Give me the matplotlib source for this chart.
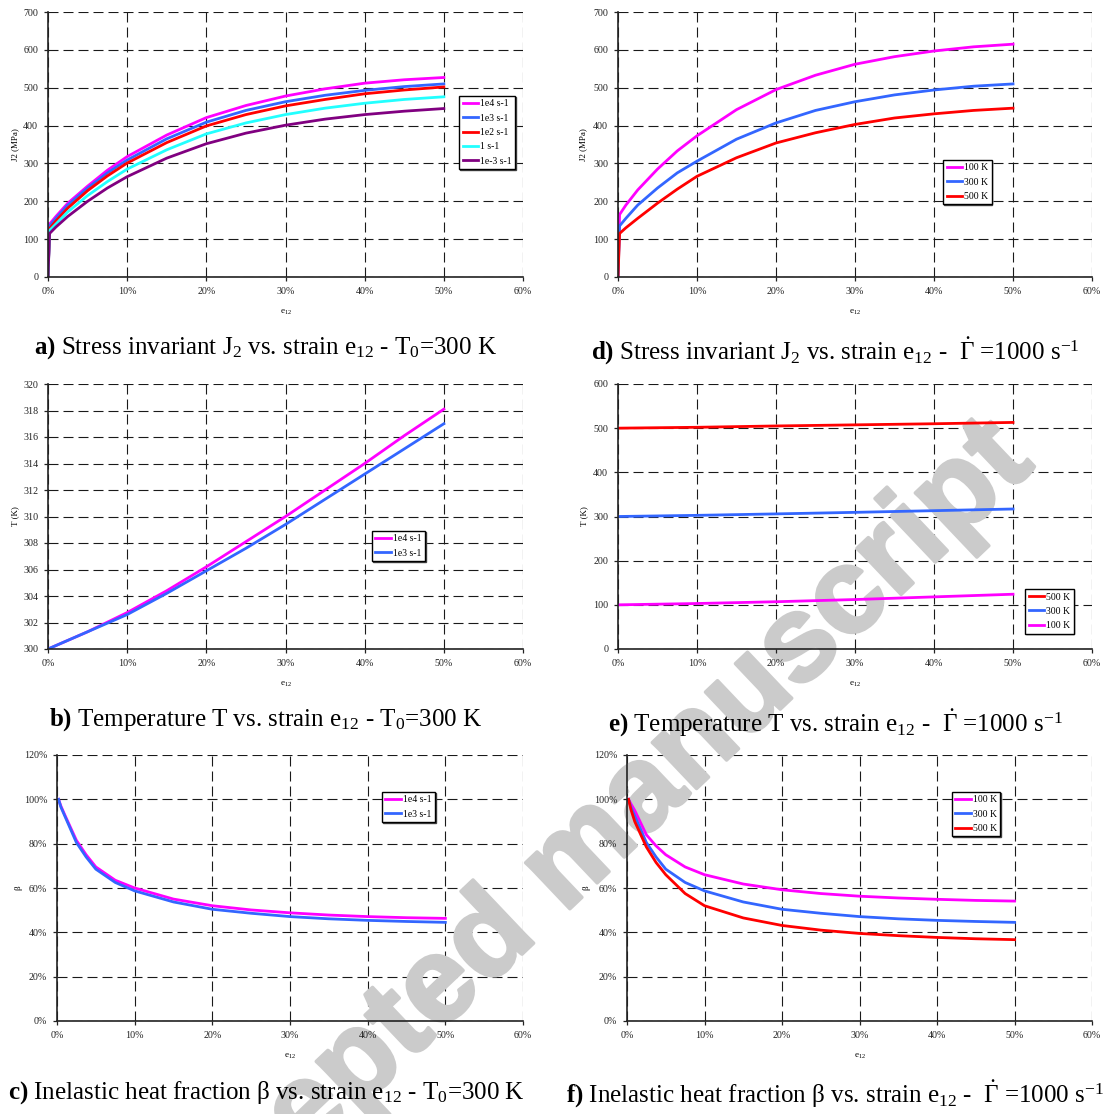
import matplotlib
matplotlib.use('Agg')
import matplotlib.pyplot as plt
import matplotlib.patheffects as pe
from matplotlib.ticker import PercentFormatter, MultipleLocator

# fonts: Times-like text, also inside math
plt.rcParams['font.family'] = ['Liberation Serif', 'DejaVu Serif']
plt.rcParams['mathtext.fontset'] = 'custom'
plt.rcParams['mathtext.rm'] = 'Liberation Serif'
plt.rcParams['mathtext.it'] = 'Liberation Serif:italic'
plt.rcParams['mathtext.bf'] = 'Liberation Serif:bold'

MAGENTA = '#ff00ff'
BLUE = '#3366ff'
RED = '#ff0000'
CYAN = '#22ffff'
PURPLE = '#800080'

# ---- a) J2 vs strain, T0 = 300 K, several strain rates
strain_j2 = [0, 0.002, 0.01, 0.025, 0.05, 0.075, 0.1, 0.15, 0.2, 0.25, 0.3, 0.35, 0.4, 0.45, 0.5]
j2_1e4 = [0, 140, 160, 195, 240, 282, 318, 375, 421, 453, 478, 497, 512, 521, 527]
j2_1e3 = [0, 135, 155, 190, 235, 275, 309, 365, 409, 440, 463, 480, 493, 503, 510]
j2_1e2 = [0, 128, 148, 182, 228, 267, 301, 355, 399, 429, 452, 469, 484, 494, 502]
j2_1 = [0, 123, 140, 172, 215, 252, 285, 336, 378, 407, 429, 446, 459, 469, 476]
j2_1em3 = [0, 115, 132, 160, 200, 235, 265, 314, 352, 380, 401, 417, 429, 438, 445]
rate_labels = ['1e4 s-1', '1e3 s-1', '1e2 s-1', '1 s-1', '1e-3 s-1']

# ---- d) J2 vs strain, 1000 s-1, several temperatures
j2_100K = [0, 165, 190, 230, 285, 333, 373, 442, 495, 533, 562, 582, 597, 608, 615]
j2_300K = [0, 135, 155, 190, 235, 275, 306, 364, 407, 440, 463, 481, 494, 504, 510]
j2_500K = [0, 115, 130, 155, 195, 232, 266, 315, 354, 381, 403, 420, 431, 440, 446]

# ---- b) temperature vs strain, T0 = 300 K
strain_t = [0, 0.05, 0.1, 0.15, 0.2, 0.25, 0.3, 0.35, 0.4, 0.45, 0.5]
t_1e4 = [300, 301.3, 302.75, 304.4, 306.2, 308.1, 310.0, 312.0, 314.0, 316.1, 318.1]
t_1e3 = [300, 301.3, 302.6, 304.2, 305.9, 307.6, 309.4, 311.3, 313.2, 315.1, 317.0]

# ---- e) temperature vs strain, 1000 s-1
strain_te = [0, 0.1, 0.2, 0.3, 0.4, 0.5]
t_500K = [500, 502, 505, 507.5, 510, 513]
t_300K = [300, 302.6, 305.9, 309.4, 313.2, 317]
t_100K = [100, 103, 107, 112, 118, 124]

# ---- c) and f) inelastic heat fraction beta (%)
strain_b = [0.002, 0.005, 0.01, 0.025, 0.0375, 0.05, 0.075, 0.1, 0.15, 0.2, 0.25, 0.3,
            0.35, 0.4, 0.45, 0.5]
beta_1e4 = [100, 97, 93, 81.5, 75, 69.5, 63.5, 60, 55, 52, 50.1, 48.8, 47.8, 47.1, 46.6, 46.3]
beta_1e3 = [100, 96.5, 92.5, 80.5, 74, 68.5, 62.5, 58.7, 53.7, 50.4, 48.6, 47.1, 46.1, 45.4,
            44.9, 44.5]
beta_100K = [100, 98, 95, 84, 79, 75, 69.5, 66, 61.8, 59.2, 57.5, 56.3, 55.5, 54.9, 54.4, 54.1]
beta_300K = [100, 96.5, 92.5, 80.5, 74, 68.5, 62.5, 58.7, 53.7, 50.4, 48.6, 47.1, 46.1, 45.4,
             44.9, 44.5]
beta_500K = [100, 95.5, 90, 78.5, 71.5, 66, 57.5, 52, 46.5, 43.1, 41, 39.5, 38.5, 37.7, 37.1,
             36.7]

captions = [
    r'$\mathbf{a)}$ Stress invariant J$_2$ vs. strain e$_{12}$ - T$_0$=300 K',
    r'$\mathbf{b)}$ Temperature T vs. strain e$_{12}$ - T$_0$=300 K',
    r'$\mathbf{c)}$ Inelastic heat fraction β vs. strain e$_{12}$ - T$_0$=300 K',
    r'$\mathbf{d)}$ Stress invariant J$_2$ vs. strain e$_{12}$ -  $\dot{\Gamma}$ =1000 s$^{-1}$',
    r'$\mathbf{e)}$ Temperature T vs. strain e$_{12}$ -  $\dot{\Gamma}$ =1000 s$^{-1}$',
    r'$\mathbf{f)}$ Inelastic heat fraction β vs. strain e$_{12}$ -  $\dot{\Gamma}$ =1000 s$^{-1}$',
]

W, H = 1103, 1114
fig = plt.figure(figsize=(W / 100, H / 100), dpi=100)


def box(left, right, top, bottom):
    # pixel box -> figure fraction
    return [left / W, 1 - bottom / H, (right - left) / W, (bottom - top) / H]


def style(ax, ylim, ystep, ylabel, ylab_x, pct=False):
    ax.set_facecolor('white')
    ax.set_xlim(0, 0.6)
    ax.set_ylim(*ylim)
    ax.xaxis.set_major_locator(MultipleLocator(0.1))
    ax.yaxis.set_major_locator(MultipleLocator(ystep))
    ax.xaxis.set_major_formatter(PercentFormatter(xmax=1, decimals=0))
    if pct:
        ax.yaxis.set_major_formatter(PercentFormatter(xmax=100, decimals=0))
    ax.set_axisbelow(True)
    ax.grid(True, color='#1a1a1a', lw=0.8, linestyle=(0, (9, 4.5)))
    ax.spines['top'].set_visible(False)
    ax.spines['right'].set_visible(False)
    for s in ['left', 'bottom']:
        ax.spines[s].set_linewidth(1.2)
        ax.spines[s].set_color('#222222')
    ax.tick_params(labelsize=7.2, length=3, width=0.9, pad=4, colors='#222222')
    ax.set_xlabel(r'e$_{12}$', fontsize=6.5)
    ax.xaxis.set_label_coords(0.5, -0.115)
    ax.set_ylabel(ylabel, fontsize=6.5)
    ax.yaxis.set_label_coords(ylab_x, 0.5)


def legend(ax, x, y):
    ax.legend(loc='upper left', bbox_to_anchor=(x, y), borderaxespad=0,
              fontsize=7, fancybox=False, edgecolor='black', framealpha=1,
              handlelength=1.6, handletextpad=0.2, labelspacing=0.55,
              borderpad=0.35,
              shadow={'ox': 0.6, 'oy': -0.6, 'color': '#444444', 'alpha': 1.0}
              ).get_frame().set_linewidth(1.0)


lw = 2.0

ax_a = fig.add_axes(box(48, 523, 12, 277))
for vals, col, lab in zip([j2_1e4, j2_1e3, j2_1e2, j2_1, j2_1em3],
                          [MAGENTA, BLUE, RED, CYAN, PURPLE], rate_labels):
    ax_a.plot(strain_j2, vals, color=col, lw=lw, label=lab)
style(ax_a, (0, 700), 100, 'J2 (MPa)', -0.06)
legend(ax_a, 0.866, 0.683)

ax_d = fig.add_axes(box(618, 1092, 12, 277))
for vals, col, lab in zip([j2_100K, j2_300K, j2_500K], [MAGENTA, BLUE, RED],
                          ['100 K', '300 K', '500 K']):
    ax_d.plot(strain_j2, vals, color=col, lw=lw, label=lab)
style(ax_d, (0, 700), 100, 'J2 (MPa)', -0.064)
legend(ax_d, 0.686, 0.442)

ax_b = fig.add_axes(box(48, 523, 384, 649))
ax_b.plot(strain_t, t_1e4, color=MAGENTA, lw=lw, label='1e4 s-1')
ax_b.plot(strain_t, t_1e3, color=BLUE, lw=lw, label='1e3 s-1')
style(ax_b, (300, 320), 2, 'T (K)', -0.061)
legend(ax_b, 0.682, 0.445)

ax_e = fig.add_axes(box(618, 1092, 384, 649))
for vals, col, lab in zip([t_500K, t_300K, t_100K], [RED, BLUE, MAGENTA],
                          ['500 K', '300 K', '100 K']):
    ax_e.plot(strain_te, vals, color=col, lw=lw, label=lab)
style(ax_e, (0, 600), 100, 'T (K)', -0.063)
legend(ax_e, 0.859, 0.226)

ax_c = fig.add_axes(box(57, 523, 755, 1021))
ax_c.plot(strain_b, beta_1e4, color=MAGENTA, lw=lw, label='1e4 s-1')
ax_c.plot(strain_b, beta_1e3, color=BLUE, lw=lw, label='1e3 s-1')
style(ax_c, (0, 120), 20, 'β', -0.074, pct=True)
legend(ax_c, 0.697, 0.861)

ax_f = fig.add_axes(box(627, 1092, 755, 1021))
for vals, col, lab in zip([beta_100K, beta_300K, beta_500K], [MAGENTA, BLUE, RED],
                          ['100 K', '300 K', '500 K']):
    ax_f.plot(strain_b, vals, color=col, lw=lw, label=lab)
style(ax_f, (0, 120), 20, 'β', -0.078, pct=True)
legend(ax_f, 0.699, 0.861)

# captions under each panel
cap_pos = [(266, 354), (266, 726), (266, 1099), (835, 360), (835, 732), (835, 1103)]
for txt, (cx, cy) in zip(captions, cap_pos):
    fig.text(cx / W, 1 - cy / H, txt, ha='center', va='baseline', fontsize=18, zorder=5)

# "Accepted manuscript" watermark: behind the figure, and inside each axes
# between the grid and the curves
wm = dict(s='Accepted manuscript', rotation=43.5, rotation_mode='anchor',
          ha='center', va='center', fontsize=87, fontweight='bold',
          family='Liberation Sans', color='#cbcbcb',
          path_effects=[pe.withStroke(linewidth=2.5, foreground='#cbcbcb')])
fig.text(0.516, 0.2226, zorder=-1, **wm)
for ax in [ax_a, ax_b, ax_c, ax_d, ax_e, ax_f]:
    ax.text(0.516, 0.2226, transform=fig.transFigure, zorder=1, clip_on=True, **wm)

fig.savefig('out.png', dpi=100)
